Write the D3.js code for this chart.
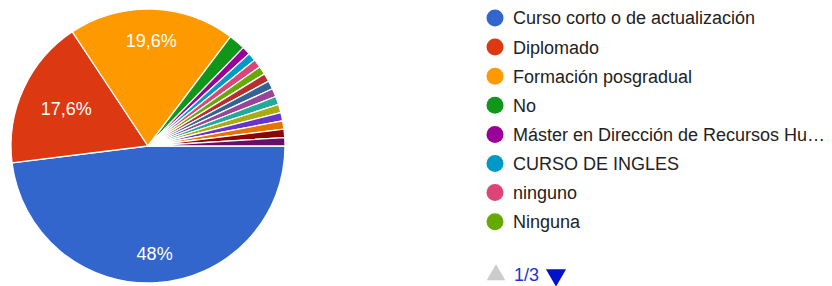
<!DOCTYPE html>
<html>
<head>
<meta charset="utf-8">
<script src="https://cdnjs.cloudflare.com/ajax/libs/d3/7.8.5/d3.min.js"></script>
<style>
  body { margin: 0; background: #fff; }
  text { font-family: "Liberation Sans", Arial, sans-serif; }
</style>
</head>
<body>
<div id="chart"></div>
<script>
// respuestas por categoría (102 en total)
var categories = [
  "Curso corto o de actualización", "Diplomado", "Formación posgradual", "No",
  "Máster en Dirección de Recursos Humanos", "CURSO DE INGLES", "ninguno", "Ninguna",
  "Especialización", "Maestría", "Doctorado", "Seminario",
  "Taller", "Certificación", "Curso virtual", "Congreso", "Otro"
];
var counts = [49, 18, 20, 2, 1, 1, 1, 1, 1, 1, 1, 1, 1, 1, 1, 1, 1];
var colors = [
  "#3366cc", "#dc3912", "#ff9900", "#109618", "#990099", "#0099c6", "#dd4477", "#66aa00",
  "#b82e2e", "#316395", "#994499", "#22aa99", "#aaaa11", "#6633cc", "#e67300", "#8b0707", "#651067"
];
var pageSize = 8, page = 1;

var width = 832, height = 286;
var cx = 148, cy = 146, r = 137;

var data = categories.map(function(c, i){ return {name: c, value: counts[i], color: colors[i]}; });
var total = d3.sum(counts);

var svg = d3.select("#chart").append("svg")
  .attr("width", width)
  .attr("height", height);

var pie = d3.pie()
  .value(function(d){ return d.value; })
  .sort(null)
  .startAngle(Math.PI / 2)
  .endAngle(Math.PI / 2 + 2 * Math.PI);

var arc = d3.arc().innerRadius(0).outerRadius(r);

var g = svg.append("g").attr("transform", "translate(" + cx + "," + cy + ")");

var arcs = pie(data);

g.selectAll("path.slice")
  .data(arcs)
  .enter()
  .append("path")
  .attr("class", "slice")
  .attr("d", arc)
  .attr("fill", function(d){ return d.data.color; })
  .attr("stroke", "#fff")
  .attr("stroke-width", 1.3);

// etiquetas de porcentaje (solo sectores grandes)
var fmt = function(v){
  var p = Math.round(v / total * 1000) / 10;
  return String(p).replace(".", ",") + "%";
};
var limit = r * 0.85;
arcs.filter(function(d){ return d.data.value / total > 0.05; }).forEach(function(d){
  var t = g.append("text")
    .attr("text-anchor", "middle")
    .attr("dy", "0.36em")
    .attr("fill", "#fff")
    .style("font-size", "18px")
    .text(fmt(d.data.value));
  var bb = t.node().getBBox();
  var hw = bb.width / 2, hh = 6.5;
  var a = (d.startAngle + d.endAngle) / 2;
  var dx = Math.sin(a), dy = -Math.cos(a);
  var dist = 0;
  for (var s = 0; s < r; s += 0.5) {
    var x = dx * s, y = dy * s;
    var far = d3.max([[-hw, -hh], [hw, -hh], [-hw, hh], [hw, hh]], function(c){
      return Math.hypot(x + c[0], y + c[1]);
    });
    if (far > limit) break;
    dist = s;
  }
  t.attr("x", dx * dist).attr("y", dy * dist);
});

// leyenda
var legend = svg.append("g").attr("transform", "translate(495,18)");
var rowH = 29.1, maxW = 318;
var items = legend.selectAll("g.item")
  .data(data.slice((page - 1) * pageSize, page * pageSize))
  .enter()
  .append("g")
  .attr("class", "item")
  .attr("transform", function(d, i){ return "translate(0," + (i * rowH) + ")"; });

items.append("circle")
  .attr("r", 8.5)
  .attr("fill", function(d){ return d.color; });

items.append("text")
  .attr("x", 18)
  .attr("dy", "0.36em")
  .attr("fill", "#222")
  .style("font-size", "18px")
  .each(function(d){
    var el = d3.select(this).text(d.name);
    var s = d.name;
    while (this.getComputedTextLength() > maxW && s.length > 1) {
      s = s.slice(0, -1);
      el.text(s.trimEnd() + "…");
    }
  });

// paginación
var pages = Math.ceil(data.length / pageSize);
var nav = svg.append("g").attr("transform", "translate(496,275)");
nav.append("path")
  .attr("d", d3.symbol().type(d3.symbolTriangle).size(150)())
  .attr("fill", "#ccc");
nav.append("text")
  .attr("x", 18)
  .attr("dy", "0.36em")
  .attr("fill", "#2233cc")
  .style("font-size", "18px")
  .text(page + "/" + pages);
nav.append("path")
  .attr("transform", "translate(60,0) rotate(180)")
  .attr("d", d3.symbol().type(d3.symbolTriangle).size(175)())
  .attr("fill", "#0011cc");
</script>
</body>
</html>
